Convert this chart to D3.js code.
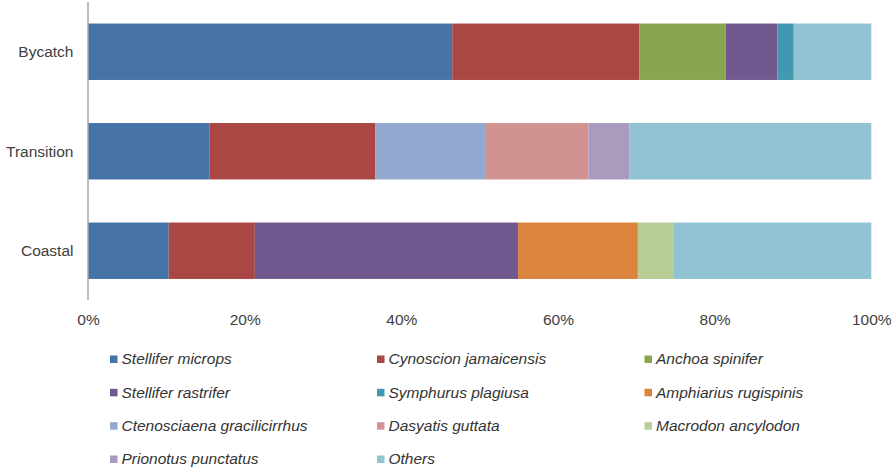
<!DOCTYPE html>
<html><head><meta charset="utf-8">
<script src="https://cdn.jsdelivr.net/npm/d3@7"></script>
<style>body{margin:0;background:#fff;} svg{display:block;}</style>
</head><body>
<svg id="chart" width="892" height="470"></svg>
<script>
const categories = ["Bycatch", "Transition", "Coastal"];
const species = ["Stellifer microps","Cynoscion jamaicensis","Anchoa spinifer","Stellifer rastrifer","Symphurus plagiusa","Amphiarius rugispinis","Ctenosciaena gracilicirrhus","Dasyatis guttata","Macrodon ancylodon","Prionotus punctatus","Others"];
const colors = ["#4572A7","#AA4643","#89A54E","#71588F","#4198AF","#DB843D","#93A9CF","#D19392","#B9CD96","#A99BBD","#92C3D5"];
// percentage values per species, in category order [Bycatch, Transition, Coastal]
const stelliferMicrops = [46.5, 15.5, 10.3];
const cynoscionJamaicensis = [23.9, 21.2, 11.0];
const anchoaSpinifer = [11.0, 0, 0];
const stelliferRastrifer = [6.6, 0, 33.6];
const symphurusPlagiusa = [2.1, 0, 0];
const amphiariusRugispinis = [0, 0, 15.3];
const ctenosciaenaGracilicirrhus = [0, 14.1, 0];
const dasyatisGuttata = [0, 13.1, 0];
const macrodonAncylodon = [0, 0, 4.6];
const prionotusPunctatus = [0, 5.2, 0];
const others = [9.9, 30.9, 25.2];
const tickLabels = ["0%","20%","40%","60%","80%","100%"];

const seriesValues = [stelliferMicrops, cynoscionJamaicensis, anchoaSpinifer, stelliferRastrifer, symphurusPlagiusa, amphiariusRugispinis, ctenosciaenaGracilicirrhus, dasyatisGuttata, macrodonAncylodon, prionotusPunctatus, others];

const rows = categories.map((c, i) => {
  const r = {cat: c};
  let total = 0;
  species.forEach((s, j) => { r[s] = seriesValues[j][i]; total += seriesValues[j][i]; });
  species.forEach(s => { r[s] = r[s] / total; });
  return r;
});

const FONT = "Liberation Sans, Arial, sans-serif";
const svg = d3.select("#chart");
const x = d3.scaleLinear().domain([0, 1]).range([88, 871.3]);
const y = d3.scaleBand().domain(categories).range([2, 300.5]).paddingInner(0.433).paddingOuter(0.2165);

const stack = d3.stack().keys(species)(rows);
const color = d3.scaleOrdinal().domain(species).range(colors);

svg.append("g").selectAll("g").data(stack).join("g")
  .attr("fill", d => color(d.key))
  .selectAll("rect").data(d => d.map(v => ({v, key: d.key}))).join("rect")
  .attr("x", d => x(d.v[0]))
  .attr("y", d => y(d.v.data.cat))
  .attr("width", d => Math.max(0, x(d.v[1]) - x(d.v[0])))
  .attr("height", y.bandwidth());

// y axis line
svg.append("line").attr("x1", 88).attr("x2", 88).attr("y1", 2).attr("y2", 300)
  .attr("stroke", "#a6a6a6").attr("stroke-width", 1.5);

// category labels
svg.append("g").selectAll("text").data(categories).join("text")
  .attr("x", 73.5).attr("y", d => y(d) + y.bandwidth() / 2)
  .attr("dy", "0.35em").attr("text-anchor", "end")
  .attr("font-family", FONT).attr("font-size", 15.5)
  .attr("fill", "#404040").text(d => d);

// x axis tick labels
const xAxis = d3.axisBottom(x).tickValues(d3.range(0, 1.01, 0.2)).tickFormat((d, i) => tickLabels[i]).tickSize(0).tickPadding(0);
const gx = svg.append("g").attr("transform", "translate(0,314)").call(xAxis);
gx.select(".domain").remove();
gx.selectAll("text").attr("font-family", FONT).attr("font-size", 15.5).attr("fill", "#404040").attr("dy", "0.71em")
  .attr("y", 0);

// legend
const colX = [110, 377, 644.5];
const rowY = [359, 392.3, 425.7, 459];
const lg = svg.append("g").selectAll("g").data(species).join("g")
  .attr("transform", (d, i) => `translate(${colX[i % 3]},${rowY[Math.floor(i / 3)]})`);
lg.append("rect").attr("x", 0).attr("y", -3.5).attr("width", 7.5).attr("height", 7.5).attr("fill", d => color(d));
lg.append("text").attr("x", 11.5).attr("y", 0).attr("dy", "0.35em")
  .attr("font-family", FONT).attr("font-size", 15.5).attr("font-style", "italic")
  .attr("fill", "#333").text(d => d);
</script>
</body></html>
